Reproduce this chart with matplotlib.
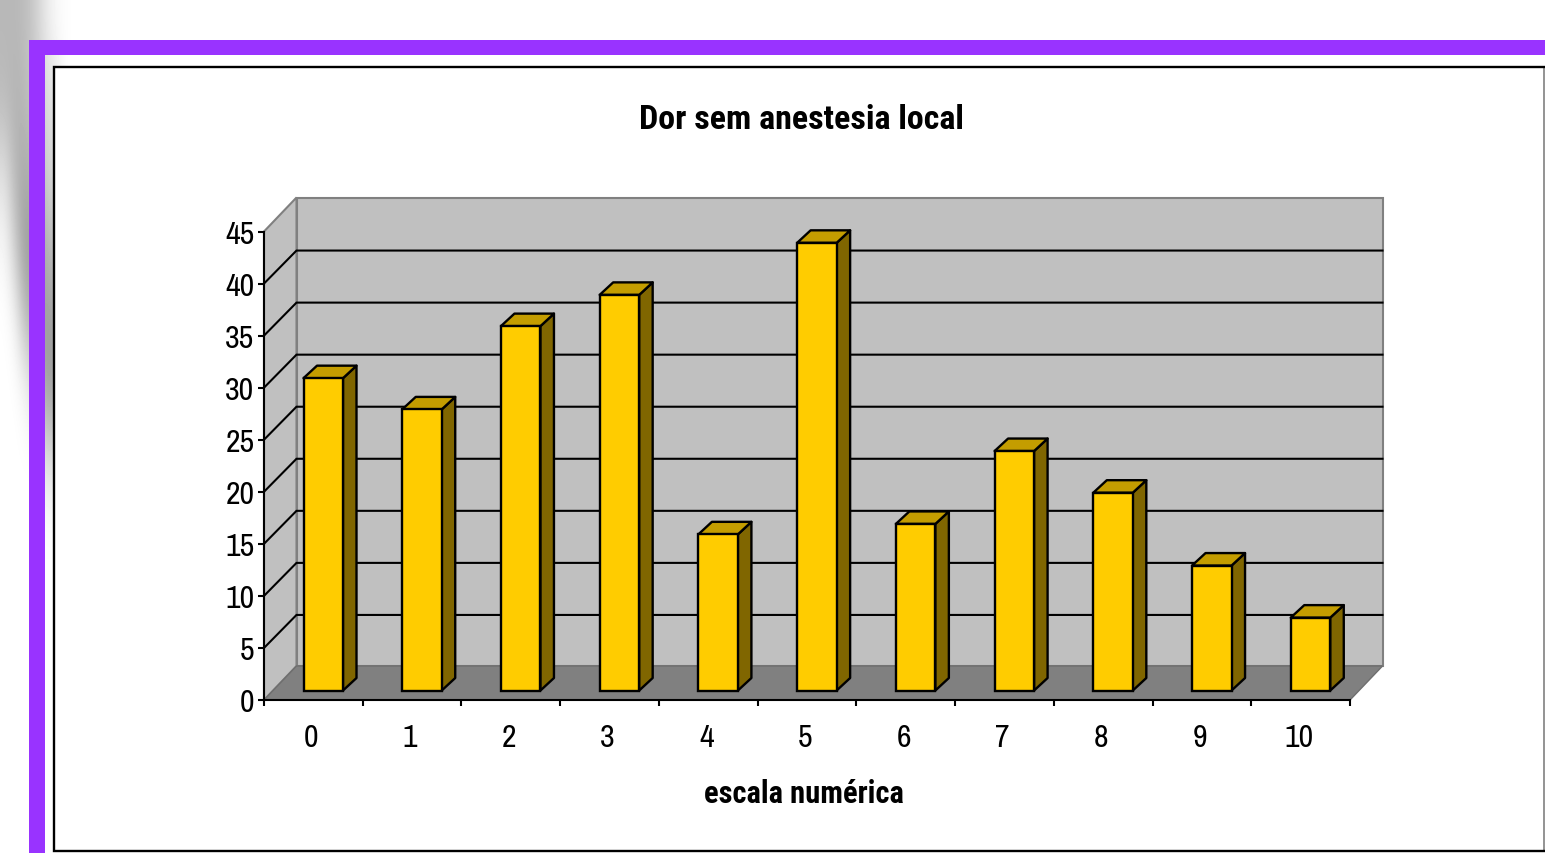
import matplotlib
matplotlib.use("Agg")
import numpy as np
import matplotlib.pyplot as plt
from matplotlib.patches import Polygon, Rectangle

# chart data
categories = ["0", "1", "2", "3", "4", "5", "6", "7", "8", "9", "10"]
values = [30, 27, 35, 38, 15, 43, 16, 23, 19, 12, 7]
y_ticks = [0, 5, 10, 15, 20, 25, 30, 35, 40, 45]

W, H = 1545, 854
plt.rcParams["font.family"] = ["Archivo Narrow", "Liberation Sans"]
BOLD = ["Roboto Condensed", "Liberation Sans"]

fig = plt.figure(figsize=(W / 100, H / 100), dpi=100, facecolor="white")

# page background: the slide frame, in pixel coordinates
bg = fig.add_axes([0, 0, 1, 1], zorder=0)
bg.axis("off")

# soft grey smudge behind the frame at the top left
smudge = np.array([
    [.72, .72, .74, .80, .90, .97, .99, 1],
    [.74, .70, .72, .78, .85, .88, 1, 1],
    [.88, .72, .66, .72, .80, .85, 1, 1],
    [.97, .80, .60, .62, .70, .75, 1, 1],
    [1, .95, .72, .65, .62, .62, 1, 1],
    [1, 1, .95, .85, .60, .60, 1, 1],
    [1, 1, 1, 1, .85, .85, 1, 1],
    [1, 1, 1, 1, 1, 1, 1, 1],
])
bg.imshow(smudge, extent=(0, 80, 560, 0), cmap="gray", vmin=0, vmax=1,
          interpolation="bicubic", aspect="auto", zorder=0)
bg.set_xlim(0, W)
bg.set_ylim(H, 0)

bg.add_patch(Rectangle((29, 40.5), W - 29, 15, fc="#9933ff", ec="none", zorder=2))
bg.add_patch(Rectangle((29, 40.5), 16, H - 40, fc="#9933ff", ec="none", zorder=2))
bg.add_patch(Rectangle((54, 68), 1490, 784, fc="white", ec="none", zorder=3))
bg.plot([1544, 1544], [68, 852], color="#808080", lw=1.2, zorder=4)
bg.plot([1544, 54, 54, 1544], [68, 68, 852, 852], color="black", lw=1.7, zorder=4,
        solid_joinstyle="miter")

# main axes = front plane of the 3D box
left, right, top, bottom = 264, 1350, 232.5, 701
ax = fig.add_axes([left / W, (H - bottom) / H, (right - left) / W, (bottom - top) / H], zorder=1)
ax.set_xlim(0, len(categories))
ax.set_ylim(0, 45)
ax.patch.set_alpha(0)
for s in ["top", "right"]:
    ax.spines[s].set_visible(False)
for s in ["left", "bottom"]:
    ax.spines[s].set_linewidth(1.5)
    ax.spines[s].set_zorder(6)

ux = (right - left) / len(categories)
uy = (bottom - top) / 45
wall_dx, wall_dy = 32.5 / ux, 34 / uy
grid_dy = 33 / uy
n = len(categories)
ymax = y_ticks[-1]

# walls and floor
ax.add_patch(Polygon([(wall_dx, wall_dy), (n + wall_dx, wall_dy), (n + wall_dx, ymax + wall_dy), (wall_dx, ymax + wall_dy)],
                     fc="#c0c0c0", ec="#808080", lw=1.5, clip_on=False, zorder=1))
ax.add_patch(Polygon([(0, 0), (wall_dx, wall_dy), (wall_dx, ymax + wall_dy), (0, ymax)],
                     fc="#c0c0c0", ec="#808080", lw=1.5, clip_on=False, zorder=1))
ax.add_patch(Polygon([(0, 0), (n, 0), (n + wall_dx, wall_dy), (wall_dx, wall_dy)],
                     fc="#808080", ec="#6e6e6e", lw=1, clip_on=False, zorder=2))

# gridlines
for v in y_ticks[1:-1]:
    ax.plot([0, wall_dx, n + wall_dx], [v, v + grid_dy, v + grid_dy], color="black", lw=1.5,
            clip_on=False, zorder=3, solid_joinstyle="miter")

# bars
bar_w = 39.5 / ux
base_x, base_y = 39.5 / ux, 9.5 / uy
side_dx, side_dy = 13.5 / ux, 12.5 / uy
for i, v in enumerate(values):
    x0 = i + base_x
    x1 = x0 + bar_w
    yb = base_y
    yt = base_y + v
    ax.add_patch(Polygon([(x1, yb), (x1 + side_dx, yb + side_dy), (x1 + side_dx, yt + side_dy), (x1, yt)],
                         fc="#806600", ec="black", lw=1.7, clip_on=False, zorder=4, joinstyle="round"))
    ax.add_patch(Polygon([(x0, yt), (x1, yt), (x1 + side_dx, yt + side_dy), (x0 + side_dx, yt + side_dy)],
                         fc="#c49d00", ec="black", lw=1.7, clip_on=False, zorder=4, joinstyle="round"))
ax.bar(np.arange(n) + base_x + bar_w / 2, values, bar_w, bottom=base_y, color="#ffcc00",
       edgecolor="black", linewidth=1.7, zorder=5, clip_on=False)

# ticks, category labels sit centred between the tick marks
ax.set_yticks(y_ticks)
ax.set_xticks(np.arange(n + 1))
ax.set_xticklabels([])
ax.tick_params(axis="y", length=4, width=1.5, labelsize=23, pad=3)
ax.tick_params(axis="x", length=4.5, width=1.5)
for i, c in enumerate(categories):
    ax.text(i + 0.48, -3.55, c, ha="center", va="center", fontsize=23, color="black")

fig.text(801 / W, 1 - 120 / H, "Dor sem anestesia local", ha="center", va="center",
         fontsize=24.5, fontweight="bold", family=BOLD)
fig.text(804 / W, 1 - 794 / H, "escala numérica", ha="center", va="center",
         fontsize=22, fontweight="bold", family=BOLD)

fig.savefig("out.png", dpi=100)
